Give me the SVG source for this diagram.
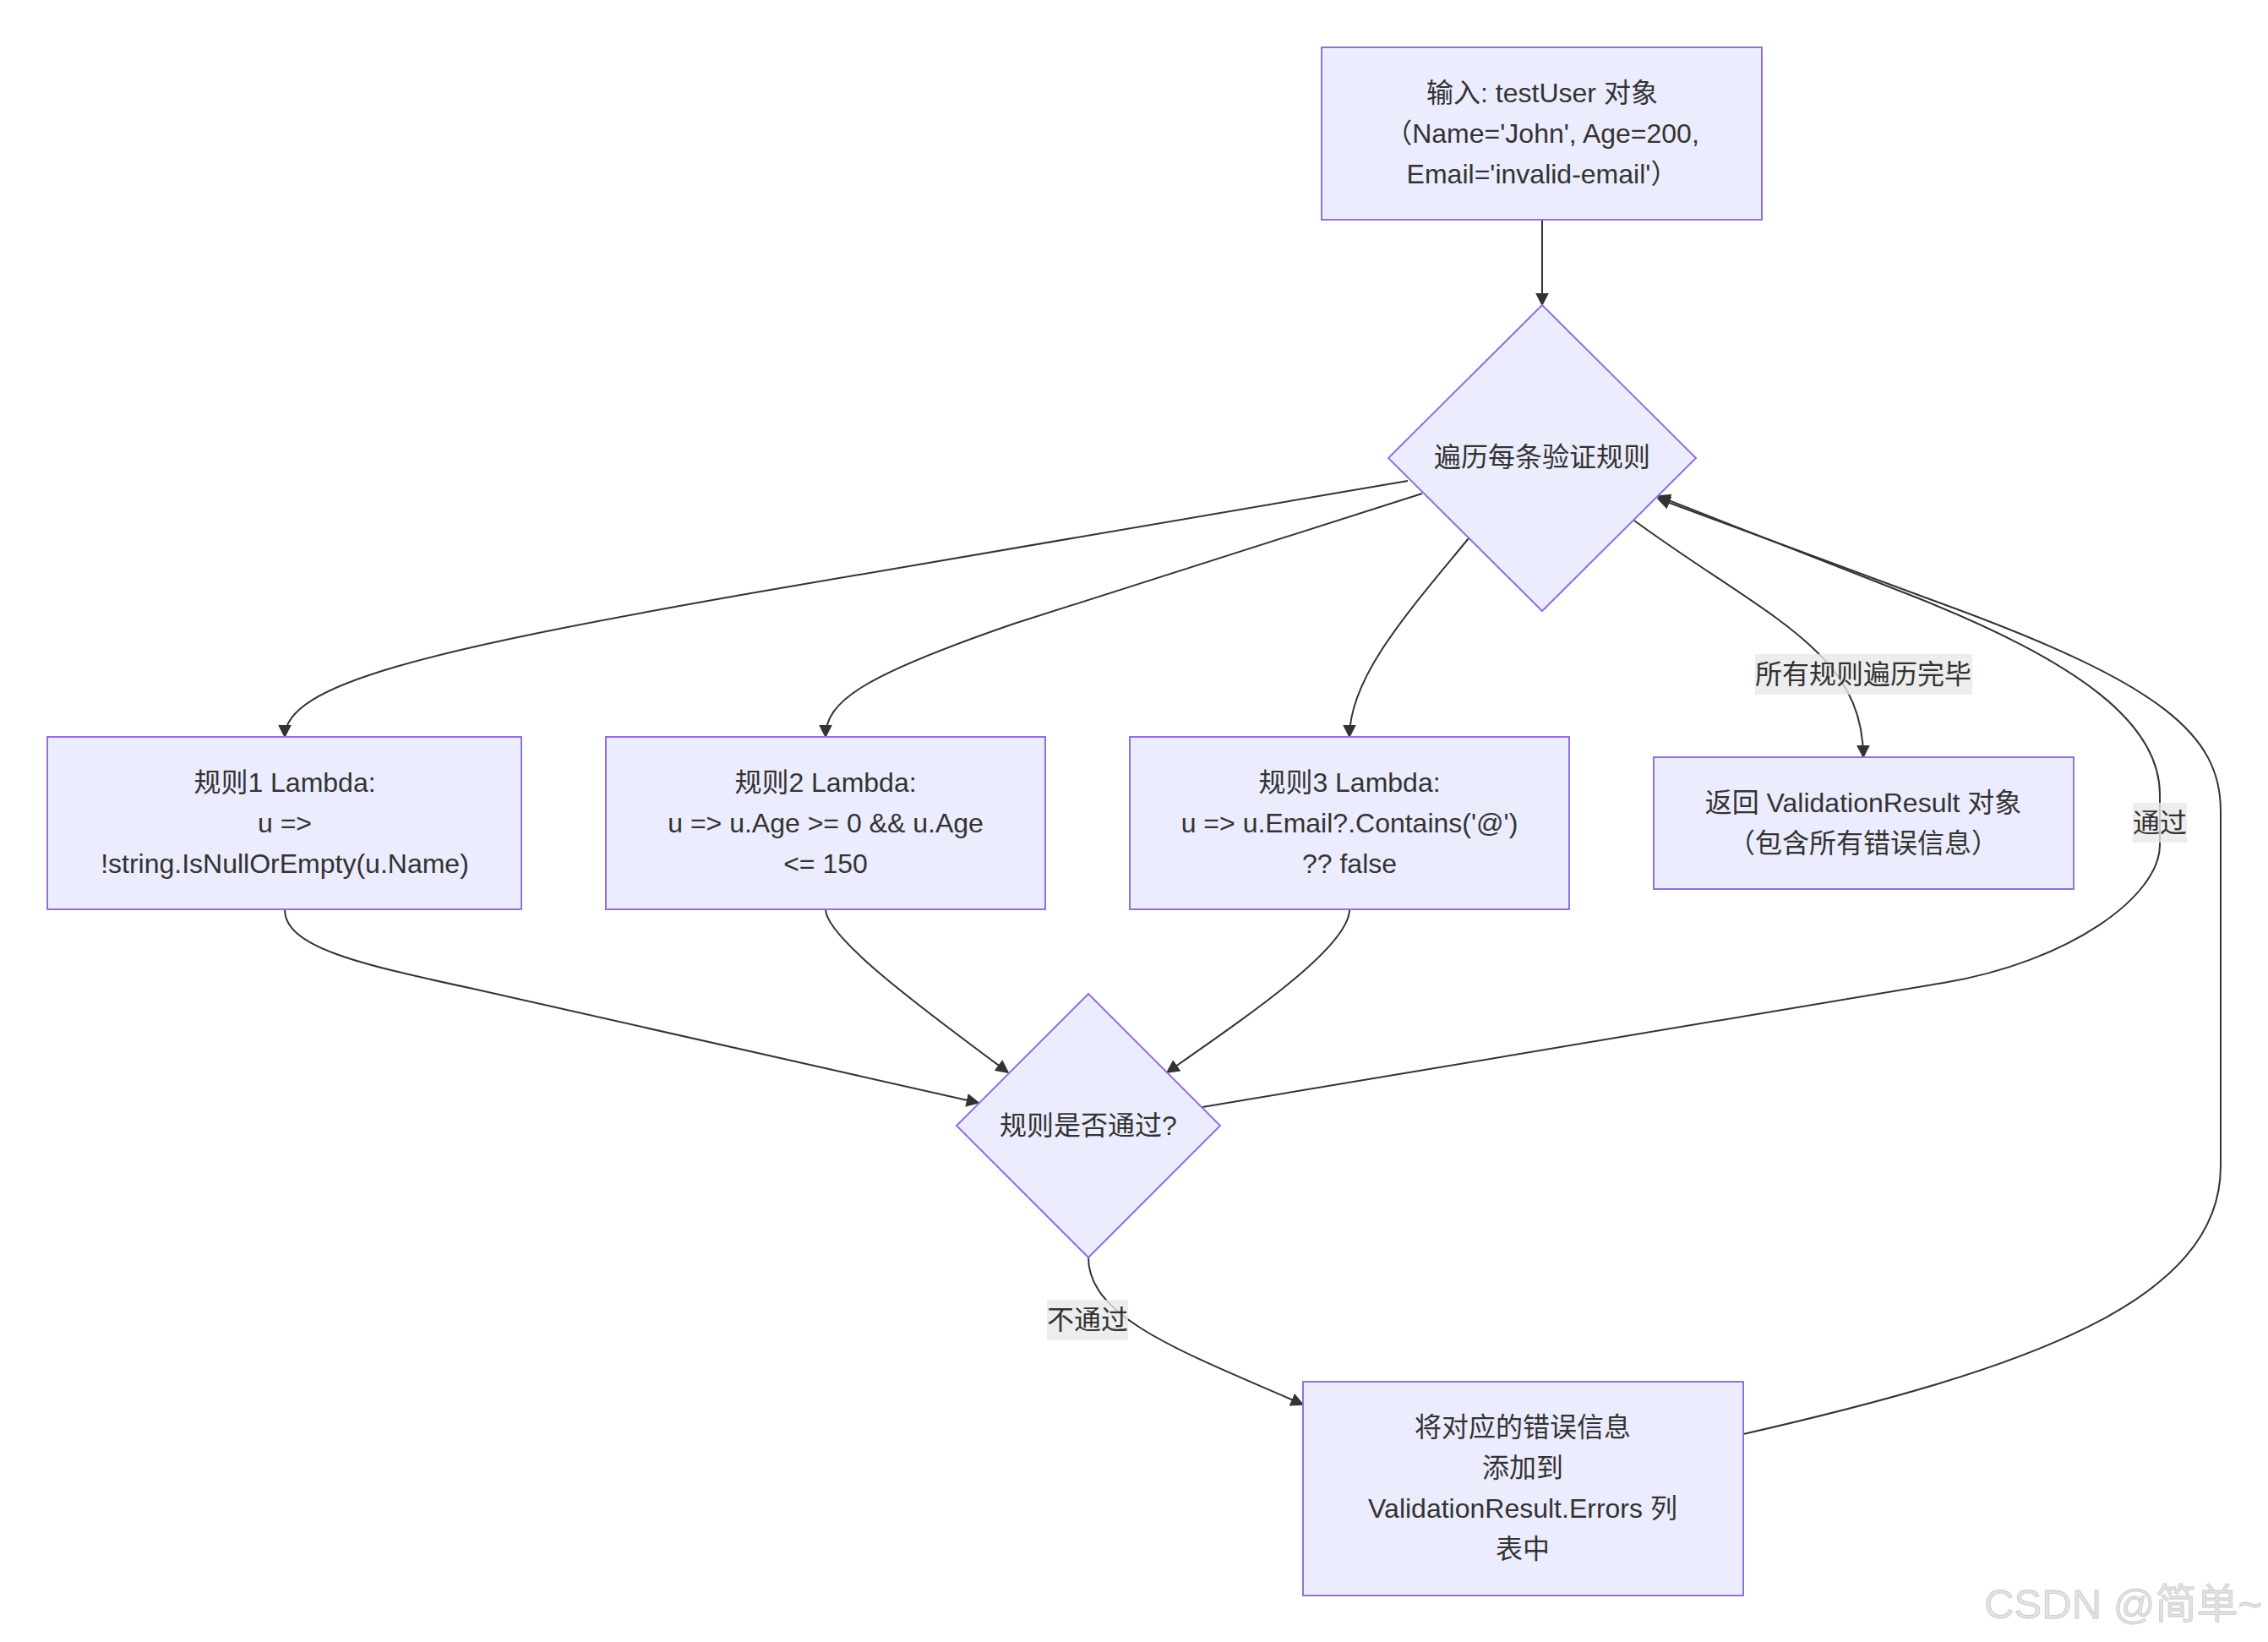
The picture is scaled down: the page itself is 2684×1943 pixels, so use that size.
<svg xmlns="http://www.w3.org/2000/svg" width="2684" height="1943" viewBox="0 0 2684 1943">
<defs>
<marker id="arr" viewBox="0 0 10 10" refX="9" refY="5" markerUnits="userSpaceOnUse" markerWidth="16" markerHeight="16" orient="auto"><path d="M0,0 L10,5 L0,10 z" fill="#333333"/></marker>
<style>
.node rect, .node polygon { fill: #ECECFF; stroke: #9370DB; stroke-width: 2; }
.t { font-family: "Liberation Sans", "Noto Sans CJK SC", sans-serif; font-size: 32px; fill: #333333; text-anchor: middle; dominant-baseline: central; }
.edge { fill: none; stroke: #333333; stroke-width: 2; marker-end: url(#arr); }
.plain { fill: none; stroke: #333333; stroke-width: 2; }
.lbl { fill: #e8e8e8; fill-opacity: 0.8; }
.wm { font-family: "Liberation Sans", "Noto Sans CJK SC", sans-serif; font-size: 49px; fill: #e2e2e2; stroke: #c8c8c8; stroke-width: 0.8; text-anchor: end; }
</style>
</defs>
<rect width="2684" height="1943" fill="#ffffff"/>

<g id="connectors">
<path class="edge" d="M1825,260 L1825,361"/>
<path class="edge" d="M1666,569 L900,700 C500,770 337,810 337,872"/>
<path class="edge" d="M1683,584 L1200,738 C1020,800 977,830 977,872"/>
<path class="edge" d="M1738,637 C1670,720 1597,800 1597,872"/>
<path class="edge" d="M1934,616 C2090,730 2205,770 2205,896"/>
<path class="edge" d="M337,1076 C337,1120 420,1140 560,1170 L1158,1305"/>
<path class="edge" d="M977,1076 C977,1110 1100,1200 1193,1269"/>
<path class="edge" d="M1597,1076 C1597,1120 1480,1200 1381,1269"/>
<path class="edge" d="M1423,1310 L2300,1163 C2450,1138 2556,1060 2556,1000 L2556,940 C2556,860 2470,785 2250,700 L1962,587"/>
<path class="edge" d="M1288,1488 C1288,1560 1400,1600 1542,1662"/>
<path class="edge" d="M2063,1697 C2400,1620 2628,1540 2628,1380 L2628,960 C2628,870 2560,810 2300,715 L1962,590"/>
<g id="edge-labels">
<rect class="lbl" x="2077" y="774" width="257" height="48"/>
<text class="t" x="2205" y="798">所有规则遍历完毕</text>
<rect class="lbl" x="2524" y="950" width="64" height="47"/>
<text class="t" x="2556" y="974">通过</text>
<rect class="lbl" x="1239" y="1538" width="96" height="48"/>
<text class="t" x="1287" y="1562">不通过</text>
</g>
</g>

<g id="input" class="node">
<rect x="1564" y="56" width="521" height="204"/>
<text class="t" x="1825" y="110">输入: testUser 对象</text>
<text class="t" x="1825" y="158">（Name='John', Age=200,</text>
<text class="t" x="1825" y="206">Email='invalid-email'）</text>
</g>

<g id="loop" class="node">
<polygon points="1825,361 2007,542 1825,723 1643,542"/>
<text class="t" x="1825" y="541">遍历每条验证规则</text>
</g>

<g id="rule1" class="node">
<rect x="56" y="872" width="561" height="204"/>
<text class="t" x="337" y="926">规则1 Lambda:</text>
<text class="t" x="337" y="974">u =&gt;</text>
<text class="t" x="337" y="1022">!string.IsNullOrEmpty(u.Name)</text>
</g>

<g id="rule2" class="node">
<rect x="717" y="872" width="520" height="204"/>
<text class="t" x="977" y="926">规则2 Lambda:</text>
<text class="t" x="977" y="974">u =&gt; u.Age &gt;= 0 &amp;&amp; u.Age</text>
<text class="t" x="977" y="1022">&lt;= 150</text>
</g>

<g id="rule3" class="node">
<rect x="1337" y="872" width="520" height="204"/>
<text class="t" x="1597" y="926">规则3 Lambda:</text>
<text class="t" x="1597" y="974">u =&gt; u.Email?.Contains('@')</text>
<text class="t" x="1597" y="1022">?? false</text>
</g>

<g id="result" class="node">
<rect x="1957" y="896" width="497" height="156"/>
<text class="t" x="2205" y="950">返回 ValidationResult 对象</text>
<text class="t" x="2205" y="998">（包含所有错误信息）</text>
</g>

<g id="check" class="node">
<polygon points="1288,1176 1444,1332 1288,1488 1132,1332"/>
<text class="t" x="1288" y="1332">规则是否通过?</text>
</g>

<g id="adderr" class="node">
<rect x="1542" y="1635" width="521" height="253"/>
<text class="t" x="1802" y="1689">将对应的错误信息</text>
<text class="t" x="1802" y="1737">添加到</text>
<text class="t" x="1802" y="1785">ValidationResult.Errors 列</text>
<text class="t" x="1802" y="1833">表中</text>
</g>

<text class="wm" x="2677" y="1915">CSDN @简单~</text>
</svg>
